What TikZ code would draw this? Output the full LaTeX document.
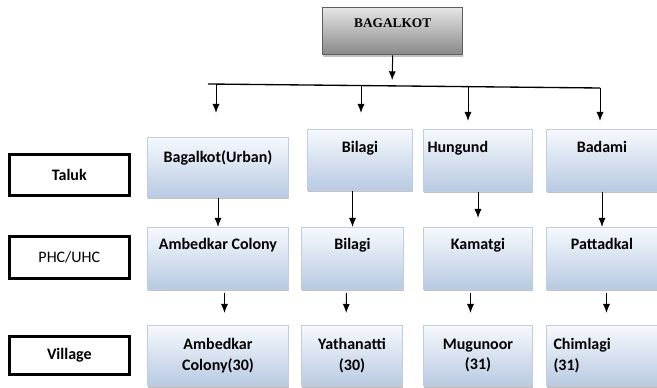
\documentclass[tikz,border=0pt]{standalone}
\usepackage{fontspec}
\setmainfont{Carlito}
\newfontfamily\titlefont{Liberation Serif}
\usetikzlibrary{arrows.meta,shadows}

\definecolor{boxtop}{RGB}{246,249,253}
\definecolor{boxbot}{RGB}{184,202,226}
\definecolor{boxline}{RGB}{190,205,225}
\definecolor{headtop}{RGB}{230,230,230}
\definecolor{headbot}{RGB}{136,136,136}
\definecolor{headline}{RGB}{95,95,95}

\tikzset{every picture/.style={line width=0.75pt}}
\tikzset{
  unit/.style={draw=boxline, top color=boxtop, bottom color=boxbot, anchor=north west,
    inner xsep=0pt, inner ysep=0pt, font=\bfseries\fontsize{12}{15.5}\selectfont,
    drop shadow={shadow xshift=0.6pt, shadow yshift=-1.5pt, opacity=0.4, fill=black!60}},
  toptext/.style 2 args={text height=#1, text depth=#2},
  lbl/.style={draw=black, line width=2pt, fill=white, anchor=north west,
    font=\bfseries\fontsize{12}{14}\selectfont},
  arr/.style={-{Latex[length=6.75pt,width=5.25pt]}},
  gap/.style={shorten <=2.25pt, shorten >=9pt},
}

\begin{document}
\begin{tikzpicture}[x=0.75pt,y=0.75pt,yscale=-1,xscale=1]
	\useasboundingbox (0,0) rectangle (657,388);
	%Shape: Rectangle (district)
	\node [unit, draw=headline, top color=headtop, bottom color=headbot, line width=1pt,
	  minimum width=105pt, toptext={15pt}{20.25pt}, font=\titlefont\bfseries\fontsize{10}{12}\selectfont] (bag) at (322,7) {BAGALKOT};
	
	%Straight Lines (bus)
	\coordinate (busL) at (208,84);
	\coordinate (busR) at (600,88);
	\coordinate (hub) at (392,86.3);
	\coordinate (b1) at (216,84.1);
	\coordinate (b2) at (361,85.5);
	\coordinate (b3) at (468,86.7);
	\draw [line width=1pt] (busL) -- (busR) ;
	
	% Left labels
	\node [lbl, minimum width=90pt, minimum height=30.75pt] (lt) at (8,153) {Taluk};
	\node [lbl, minimum width=90pt, minimum height=31.5pt] (lp) at (8,235) {\mdseries PHC/UHC};
	\node [lbl, minimum width=90pt, minimum height=28.5pt] (lv) at (8,335) {Village};
	
	% Taluk row
	\node [unit, minimum width=105.75pt, toptext={18.75pt}{26.25pt}] (t1) at (147,137) {Bagalkot(Urban)};
	\node [unit, minimum width=78.75pt, toptext={17.25pt}{28.5pt}] (t2) at (307,129) {Bilagi};
	\node [unit, text width=75.75pt, inner xsep=3pt, align=left, toptext={17.25pt}{29.25pt}] (t3) at (423,129) {Hungund};
	\node [unit, minimum width=83.25pt, toptext={17.25pt}{29.25pt}] (t4) at (546,129) {Badami};
	
	% PHC/UHC row
	\node [unit, minimum width=105.75pt, toptext={16.5pt}{30pt}] (p1) at (147,227) {Ambedkar Colony};
	\node [unit, minimum width=76.5pt, toptext={16.5pt}{30pt}] (p2) at (301,227) {Bilagi};
	\node [unit, minimum width=81.75pt, toptext={16.5pt}{30pt}] (p3) at (423,227) {Kamatgi};
	\node [unit, minimum width=83.25pt, toptext={16.5pt}{30pt}] (p4) at (546,227) {Pattadkal};
	
	% Village row
	\node [unit, minimum width=105.75pt, minimum height=45pt, align=center] (v1) at (147,325) {Ambedkar\\Colony(30)};
	\node [unit, minimum width=75.75pt, minimum height=45pt, align=center] (v2) at (301,325) {Yathanatti\\(30)};
	\node [unit, minimum width=81.75pt, minimum height=45pt, align=center] (v3) at (423,325) {Mugunoor\\(31)};
	\node [unit, text width=72.75pt, inner xsep=5.25pt, minimum height=45pt, align=left] (v4) at (546,325) {Chimlagi\\(31)};
	
	% Arrows
	\draw [arr, shorten >=4.5pt] (bag.south) -- (hub) ;
	\draw [arr, shorten >=18pt] (b1) -- (b1 |- t1.north) ;
	\draw [arr, shorten >=12pt] (b2) -- (b2 |- t2.north) ;
	\draw [arr, shorten >=6pt] (b3) -- (b3 |- t3.north) ;
	\draw [arr, shorten >=6pt] (busR) -- (busR |- t4.north) ;
	
	\draw [arr] (t1.south) -- (p1.north) ;
	\draw [arr] (t2.south -| p2.north) -- (p2.north) ;
	\draw [arr, shorten >=6.75pt] (t3.south) -- (p3.north) ;
	\draw [arr] (t4.south) -- (p4.north) ;
	
	\draw [arr, gap] ([xshift=4.875pt]p1.south) -- ([xshift=4.875pt]v1.north) ;
	\draw [arr, gap] ([xshift=-4.5pt]p2.south) -- ([xshift=-4.5pt]v2.north) ;
	\draw [arr, gap] ([xshift=-5.625pt]p3.south) -- ([xshift=-5.625pt]v3.north) ;
	\draw [arr, gap] ([xshift=3.375pt]p4.south) -- ([xshift=3.375pt]v4.north) ;
\end{tikzpicture}
\end{document}
